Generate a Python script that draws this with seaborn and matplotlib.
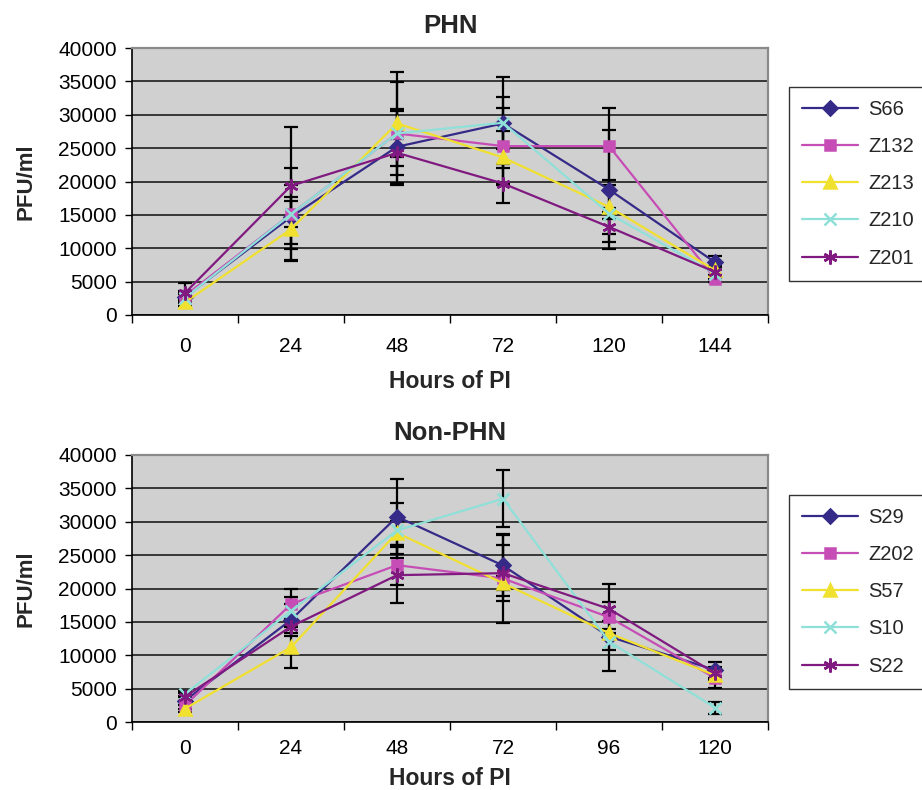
import numpy as np
import pandas as pd
import matplotlib
matplotlib.use("Agg")
import matplotlib.pyplot as plt
import seaborn as sns

# ---------------- data ----------------
phn_hours = ["0", "24", "48", "72", "120", "144"]
phn_names = ["S66", "Z132", "Z213", "Z210", "Z201"]
S66 = [2700, 14700, 25200, 28700, 18800, 7900]
Z132 = [2900, 15100, 27200, 25300, 25300, 5450]
Z213 = [1900, 12850, 28700, 23600, 16200, 6700]
Z210 = [2600, 15100, 27200, 28800, 15200, 6200]
Z201 = [3300, 19350, 24300, 19700, 13200, 6450]
S66_err = [800, 4800, 5350, 3900, 8900, 900]
Z132_err = [700, 6850, 7650, 5750, 5750, 500]
Z213_err = [500, 4800, 7750, 4000, 4000, 700]
Z210_err = [600, 1950, 3600, 6800, 800, 800]
Z201_err = [1500, 8750, 2000, 2850, 2250, 1500]

non_hours = ["0", "24", "48", "72", "96", "120"]
non_names = ["S29", "Z202", "S57", "S10", "S22"]
S29 = [3200, 15300, 30750, 23450, 12800, 7800]
Z202 = [2500, 17650, 23500, 21500, 15700, 6600]
S57 = [2000, 11200, 28350, 20800, 13300, 7000]
S10 = [4200, 16650, 28700, 33450, 12050, 2150]
S22 = [3800, 14300, 22000, 22300, 16950, 7300]
S29_err = [700, 2350, 5650, 4500, 5200, 1200]
Z202_err = [600, 2250, 3000, 6700, 550, 1500]
S57_err = [500, 3050, 1800, 1000, 700, 600]
S10_err = [500, 2150, 4100, 4300, 1300, 900]
S22_err = [600, 1000, 4200, 4150, 3750, 1000]

# ---------------- style ----------------
colors = ["#352A87", "#C64DB5", "#F0E030", "#8FE0D8", "#801A80"]
markers = ["D", "s", "^", "x", (6, 2, 0)]
msizes = [7.5, 7, 9, 9, 10]

sns.set_theme(style="white")
plt.rcParams["font.family"] = ["Liberation Sans", "DejaVu Sans"]

W, H = 922, 790
fig = plt.figure(figsize=(W / 100, H / 100), dpi=100)


def px_axes(left, top, right, bottom):
    return fig.add_axes([left / W, 1 - bottom / H, (right - left) / W, (bottom - top) / H])


def draw(ax, hours, names, series, errs, title, leg_top, tick_pad, xlab_y):
    xpos = np.arange(len(hours))
    ax.set_facecolor("#D0D0D0")
    for i, (name, vals, e) in enumerate(zip(names, series, errs)):
        ax.errorbar(xpos, vals, yerr=e, fmt="none", ecolor="black",
                    elinewidth=1.6, capsize=5, capthick=1.6, zorder=2)
    for i, (name, vals) in enumerate(zip(names, series)):
        df = pd.DataFrame({"x": xpos, "y": vals})
        sns.lineplot(data=df, x="x", y="y", ax=ax, color=colors[i],
                     marker=markers[i], markersize=msizes[i],
                     markeredgecolor=colors[i], markeredgewidth=1.8,
                     linewidth=1.6, label=name, zorder=3)
    ax.set_xlim(-0.5, len(hours) - 0.5)
    ax.set_ylim(0, 40000)
    ax.set_yticks(np.arange(0, 40001, 5000))
    ax.yaxis.grid(True, color="#2a2a2a", linewidth=1.3)
    ax.xaxis.grid(False)
    ax.set_axisbelow(True)
    ax.set_xticks(np.arange(-0.5, len(hours)))
    ax.set_xticklabels([])
    ax.set_xticks(xpos, minor=True)
    ax.set_xticklabels(hours, minor=True)
    ax.tick_params(axis="x", which="major", direction="out", length=6,
                   width=1, color="black", bottom=True)
    ax.tick_params(axis="x", which="minor", length=0, pad=tick_pad,
                   labelsize=15, labelcolor="black")
    ax.tick_params(axis="y", direction="out", length=5, width=1,
                   color="black", left=True, pad=6, labelsize=15,
                   labelcolor="black")
    for s in ["left", "bottom"]:
        ax.spines[s].set_color("black")
        ax.spines[s].set_linewidth(1.2)
    for s in ["top", "right"]:
        ax.spines[s].set_color("#8a8a8a")
        ax.spines[s].set_linewidth(1.6)
    ax.set_title(title, fontsize=18.5, fontweight="bold", pad=11)
    ax.set_ylabel("PFU/ml", fontsize=16, fontweight="bold")
    ax.yaxis.set_label_coords(-0.150, 0.5)
    ax.set_xlabel("Hours of PI", fontsize=16.5, fontweight="bold")
    ax.xaxis.set_label_coords(0.5, xlab_y)
    handles, labels = ax.get_legend_handles_labels()
    ax.get_legend().remove()
    leg = fig.legend(handles, labels, loc="upper left",
                     bbox_to_anchor=(789 / W, 1 - leg_top / H),
                     bbox_transform=fig.transFigure, borderaxespad=0,
                     frameon=True, fancybox=False, fontsize=14.5,
                     handlelength=2.8, handletextpad=0.5,
                     labelspacing=0.9, borderpad=0.65)
    leg.get_frame().set_edgecolor("black")
    leg.get_frame().set_linewidth(1.0)
    leg.get_frame().set_facecolor("white")


ax1 = px_axes(132, 48, 768, 315)
draw(ax1, phn_hours, phn_names, [S66, Z132, Z213, Z210, Z201],
     [S66_err, Z132_err, Z213_err, Z210_err, Z201_err], "PHN", 87, 16, -0.205)

ax2 = px_axes(132, 455, 768, 722)
draw(ax2, non_hours, non_names, [S29, Z202, S57, S10, S22],
     [S29_err, Z202_err, S57_err, S10_err, S22_err], "Non-PHN", 495, 12, -0.17)

fig.savefig("out.png", dpi=100)
